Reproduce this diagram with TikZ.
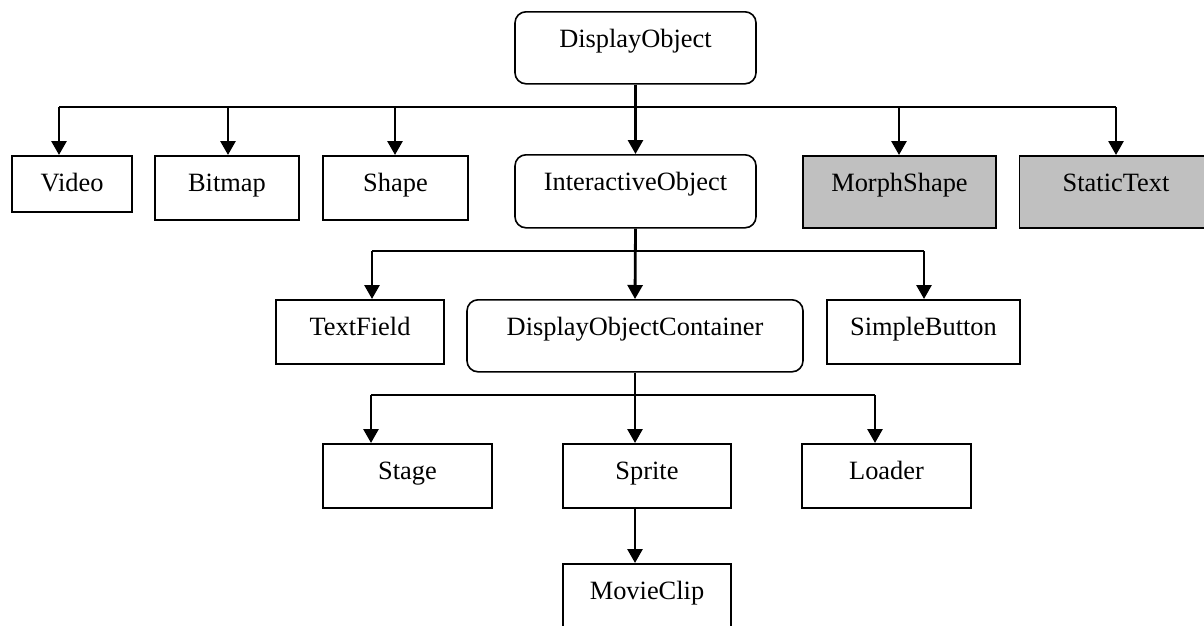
\documentclass[tikz,border=0pt]{standalone}
\usepackage{fontspec}
\setmainfont{Liberation Serif}
\usetikzlibrary{arrows.meta}
\definecolor{shadegray}{RGB}{192,192,192}

\begin{document}
\begin{tikzpicture}[x=1pt,y=-1pt,
        cls/.style={draw, line width=1.6pt, anchor=north, inner sep=0pt,
                        text height=36pt, font=\fontsize{26.4}{30}\selectfont},
        rcls/.style={cls, rounded corners=11pt},
        gcls/.style={cls, fill=shadegray},
        conn/.style={line width=2.8pt, -{Triangle[length=14pt,width=15pt]}},
        bus/.style={line width=1.9pt}]
    \useasboundingbox (0,0) rectangle (1204,625);

    % top level
    \node[rcls, minimum width=241pt, text depth=36pt] (dobj) at (635.5,11) {DisplayObject};
    \node[cls, minimum width=120pt, text depth=20pt] (video) at (72,155) {Video};
    \node[cls, minimum width=144pt, text depth=28pt] (bitmap) at (227,155) {Bitmap};
    \node[cls, minimum width=145pt, text depth=28pt] (shape) at (395.5,155) {Shape};
    \node[rcls, minimum width=241pt, text depth=37pt] (iobj) at (635.5,154) {InteractiveObject};
    \node[gcls, minimum width=193pt, text depth=36pt] (morph) at (899.5,155) {MorphShape};
    \node[gcls, minimum width=193pt, text depth=36pt] (stext) at (1116,155) {StaticText};

    % interactive objects
    \node[cls, minimum width=168pt, text depth=28pt] (tfield) at (360,299) {TextField};
    \node[rcls, minimum width=336pt, text depth=36pt] (docont) at (635,299) {DisplayObjectContainer};
    \node[cls, minimum width=193pt, text depth=28pt] (sbutton) at (923.5,299) {SimpleButton};

    % containers
    \node[cls, minimum width=169pt, text depth=28pt] (stage) at (407.5,443) {Stage};
    \node[cls, minimum width=168pt, text depth=28pt] (sprite) at (647,443) {Sprite};
    \node[cls, minimum width=169pt, text depth=28pt] (loader) at (886.5,443) {Loader};
    \node[cls, minimum width=168pt, text depth=28pt] (mclip) at (647,563) {MovieClip};

    % DisplayObject -> children
    \draw[conn] (dobj.south) -- (iobj.north);
    \foreach \n/\x in {video/59, bitmap/228, shape/395, morph/899, stext/1116}{
        \coordinate (j-\n) at (\x,107);
        \draw[conn] (j-\n) -- (j-\n |- \n.north);
    }
    \draw[bus] (j-video) -- (j-stext);

    % InteractiveObject -> children
    \draw[conn] (iobj.south) -- (docont.north);
    \foreach \n/\x in {tfield/372, sbutton/924}{
        \coordinate (j-\n) at (\x,251);
        \draw[conn] (j-\n) -- (j-\n |- \n.north);
    }
    \draw[bus] (j-tfield) -- (j-sbutton);

    % DisplayObjectContainer -> children
    \draw[conn] (docont.south) -- (docont.south |- sprite.north);
    \foreach \n/\x in {stage/371, loader/875}{
        \coordinate (j-\n) at (\x,395);
        \draw[conn] (j-\n) -- (j-\n |- \n.north);
    }
    \draw[bus] (j-stage) -- (j-loader);

    % Sprite -> MovieClip
    \draw[conn] (docont.south |- sprite.south) -- (docont.south |- mclip.north);
\end{tikzpicture}
\end{document}
